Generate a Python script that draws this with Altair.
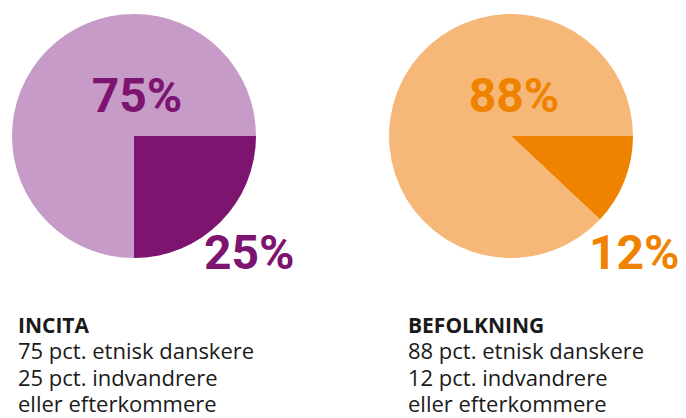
import altair as alt
import pandas as pd

# ---- data ----
groups = ["INCITA", "BEFOLKNING"]
danish = [75, 88]          # pct. etnisk danskere
immigrants = [25, 12]      # pct. indvandrere eller efterkommere

# ---- styles ----
light_colors = ["#c79bc7", "#f6b878"]
dark_colors = ["#7d1470", "#ef8300"]
big_label_dx = [70, 78]     # offset of the small-share label from the pie centre
desc_dx = [-116, -103]      # offset of the description block from the pie centre

W, H = 670, 410
CY = 128
R = 122

rows = []
for g, d, i in zip(groups, danish, immigrants):
    rows.append({"group": g, "part": "indvandrere", "key": g + "|indvandrere", "value": i, "order": 0})
    rows.append({"group": g, "part": "danskere", "key": g + "|danskere", "value": d, "order": 1})
pie_df = pd.DataFrame(rows)

color_domain = [f"{g}|{p}" for g in groups for p in ["indvandrere", "danskere"]]
color_range = []
for k in range(len(groups)):
    color_range += [dark_colors[k], light_colors[k]]

xscale = alt.Scale(type="point", domain=groups, range=[126, 503], padding=0)
X = alt.X("group:N", scale=xscale, axis=None)

pies = alt.Chart(pie_df).transform_stack(
    stack="value", groupby=["group"], as_=["v0", "v1"],
    sort=[alt.SortField("order", order="ascending")],
).mark_arc(radius=R, stroke=None).encode(
    x=X,
    y=alt.value(CY),
    theta=alt.Theta("v0:Q", scale=alt.Scale(domain=[0, 100], range=[1.5708, 1.5708 + 6.28319])),
    theta2="v1:Q",
    color=alt.Color("key:N", scale=alt.Scale(domain=color_domain, range=color_range), legend=None),
)

lab_df = pd.DataFrame({
    "group": groups,
    "big": [f"{d}%" for d in danish],
    "small": [f"{i}%" for i in immigrants],
    "title": groups,
    "desc": [f"{d} pct. etnisk danskere\n{i} pct. indvandrere\neller efterkommere"
             for d, i in zip(danish, immigrants)],
})

layers = [pies]
for k, g in enumerate(groups):
    base = alt.Chart(lab_df).transform_filter(alt.datum.group == g)
    layers.append(base.mark_text(font="Roboto", fontWeight="bold", fontSize=48,
                                 align="center", baseline="alphabetic", dx=3,
                                 color=dark_colors[k]).encode(
        x=X, y=alt.value(104), text="big:N"))
    layers.append(base.mark_text(font="Roboto", fontWeight="bold", fontSize=48,
                                 align="left", baseline="alphabetic", dx=big_label_dx[k],
                                 color=dark_colors[k]).encode(
        x=X, y=alt.value(261), text="small:N"))
    layers.append(base.mark_text(font="Open Sans", fontWeight="bold", fontSize=21,
                                 align="left", baseline="alphabetic", dx=desc_dx[k],
                                 color="#1a1a1a").encode(
        x=X, y=alt.value(325), text="title:N"))
    layers.append(base.mark_text(font="Open Sans", fontSize=22, lineBreak="\n", lineHeight=26.5,
                                 align="left", baseline="alphabetic", dx=desc_dx[k],
                                 color="#1a1a1a").encode(
        x=X, y=alt.value(351), text="desc:N"))

chart = alt.layer(*layers).properties(
    width=W, height=H, padding=0, autosize=alt.AutoSizeParams(type="none"),
    background="white",
).configure_view(stroke=None)

chart.save("out.html", embed_options={"renderer": "svg", "actions": False})
